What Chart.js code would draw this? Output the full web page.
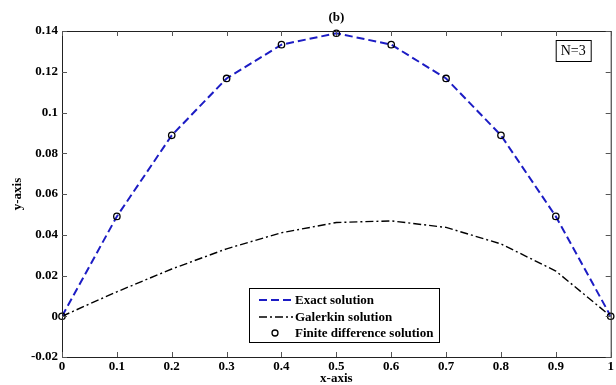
<!DOCTYPE html>
<html lang="en">
<head>
    <meta charset="UTF-8">
    <title>N=3 solutions</title>
    <script src="https://cdn.jsdelivr.net/npm/chart.js"></script>
    <style>
        html, body {
            margin: 0;
            padding: 0;
            background-color: #ffffff;
        }
        #chart {
            display: block;
        }
    </style>
</head>
<body>

<canvas id="chart" width="616" height="385"></canvas>

<script>
    // values
    const xValues = [0, 0.1, 0.2, 0.3, 0.4, 0.5, 0.6, 0.7, 0.8, 0.9, 1];
    const exactValues = [0, 0.0490, 0.0888, 0.1167, 0.1333, 0.1389, 0.1333, 0.1167, 0.0888, 0.0490, 0];
    const galerkinValues = [0, 0.0120, 0.0232, 0.0331, 0.0410, 0.0460, 0.0468, 0.0436, 0.0355, 0.0222, 0];
    const finiteDiffValues = [0, 0.0490, 0.0888, 0.1167, 0.1333, 0.1389, 0.1333, 0.1167, 0.0888, 0.0490, 0];
    const xTicks = [0, 0.1, 0.2, 0.3, 0.4, 0.5, 0.6, 0.7, 0.8, 0.9, 1];
    const yTicks = [-0.02, 0, 0.02, 0.04, 0.06, 0.08, 0.1, 0.12, 0.14];

    const seriesNames = ['Exact solution', 'Galerkin solution', 'Finite difference solution'];
    const plotTitle = '(b)';
    const boxNote = 'N=3';

    const serif = '"Liberation Serif", "DejaVu Serif", serif';
    const blue = '#1c1cc4';

    const toPoints = ys => xValues.map((x, i) => ({ x: x, y: ys[i] }));
    const fmt = v => String(Number(v.toFixed(2)));

    // frame, inward ticks, title, note box and legend
    const decorPlugin = {
        id: 'decor',
        afterDraw(chart) {
            const ctx = chart.ctx;
            const a = chart.chartArea;
            const xs = chart.scales.x;
            const ys = chart.scales.y;
            ctx.save();

            ctx.strokeStyle = '#222';
            ctx.lineWidth = 1;
            ctx.strokeRect(a.left + 0.5, a.top + 0.5, a.right - a.left, a.bottom - a.top);

            ctx.strokeStyle = '#555';
            ctx.beginPath();
            xTicks.forEach(t => {
                const px = Math.round(xs.getPixelForValue(t)) + 0.5;
                ctx.moveTo(px, a.bottom); ctx.lineTo(px, a.bottom - 5);
                ctx.moveTo(px, a.top); ctx.lineTo(px, a.top + 5);
            });
            yTicks.forEach(t => {
                const py = Math.round(ys.getPixelForValue(t)) + 0.5;
                ctx.moveTo(a.left, py); ctx.lineTo(a.left + 5, py);
                ctx.moveTo(a.right, py); ctx.lineTo(a.right - 5, py);
            });
            ctx.stroke();

            // title
            ctx.fillStyle = '#000';
            ctx.font = 'bold 13px ' + serif;
            ctx.textAlign = 'center';
            ctx.textBaseline = 'middle';
            ctx.fillText(plotTitle, (a.left + a.right) / 2, 18);

            // N=3 box
            ctx.font = '14px ' + serif;
            ctx.fillStyle = '#fff';
            ctx.fillRect(a.right - 55, a.top + 9, 35, 21);
            ctx.strokeStyle = '#000';
            ctx.strokeRect(a.right - 55 + 0.5, a.top + 9.5, 35, 21);
            ctx.fillStyle = '#000';
            ctx.fillText(boxNote, a.right - 37.5, a.top + 20.5);

            // legend
            const lx = 249, ly = 288, lw = 190, lh = 54;
            ctx.fillStyle = '#fff';
            ctx.fillRect(lx, ly, lw, lh);
            ctx.strokeStyle = '#000';
            ctx.lineWidth = 1;
            ctx.strokeRect(lx + 0.5, ly + 0.5, lw, lh);
            const rows = [ly + 12, ly + 29, ly + 45];

            ctx.lineWidth = 2;
            ctx.strokeStyle = blue;
            ctx.setLineDash([8, 4]);
            ctx.beginPath(); ctx.moveTo(lx + 10, rows[0]); ctx.lineTo(lx + 44, rows[0]); ctx.stroke();

            ctx.lineWidth = 1.5;
            ctx.strokeStyle = '#000';
            ctx.setLineDash([8, 3, 2, 3]);
            ctx.beginPath(); ctx.moveTo(lx + 10, rows[1]); ctx.lineTo(lx + 44, rows[1]); ctx.stroke();

            ctx.setLineDash([]);
            ctx.lineWidth = 1.3;
            ctx.beginPath(); ctx.arc(lx + 26, rows[2], 3, 0, Math.PI * 2); ctx.stroke();

            ctx.fillStyle = '#000';
            ctx.font = 'bold 13px ' + serif;
            ctx.textAlign = 'left';
            seriesNames.forEach((name, i) => ctx.fillText(name, lx + 46, rows[i] + 1));

            ctx.restore();
        }
    };

    const tickFont = { family: serif, size: 13, weight: 'bold' };
    const titleFont = { family: serif, size: 13, weight: 'bold', lineHeight: 1 };

    new Chart(document.getElementById('chart').getContext('2d'), {
        type: 'scatter',
        data: {
            datasets: [{
                label: seriesNames[2],
                data: toPoints(finiteDiffValues),
                showLine: false,
                pointStyle: 'circle',
                pointRadius: 3.2,
                pointBorderWidth: 1.3,
                pointBorderColor: '#000',
                pointBackgroundColor: 'rgba(0,0,0,0)',
                clip: false
            }, {
                label: seriesNames[0],
                data: toPoints(exactValues),
                showLine: true,
                borderColor: blue,
                borderWidth: 2,
                borderDash: [8, 4],
                pointRadius: 0,
                tension: 0
            }, {
                label: seriesNames[1],
                data: toPoints(galerkinValues),
                showLine: true,
                borderColor: '#000',
                borderWidth: 1.4,
                borderDash: [8, 3, 2, 3],
                pointRadius: 0,
                tension: 0
            }]
        },
        options: {
            responsive: false,
            animation: false,
            layout: { padding: { top: 31, right: 3, left: 0, bottom: 0 } },
            plugins: {
                legend: { display: false },
                tooltip: { enabled: false }
            },
            scales: {
                x: {
                    type: 'linear',
                    min: 0,
                    max: 1,
                    afterFit: s => { s.height = 28; },
                    afterBuildTicks: s => { s.ticks = xTicks.map(v => ({ value: v })); },
                    grid: { display: false, drawTicks: false },
                    border: { display: false },
                    ticks: { color: '#000', font: tickFont, padding: 2, maxRotation: 0, callback: v => fmt(v) },
                    title: { display: true, text: 'x-axis', color: '#000', font: titleFont, padding: { top: 0, bottom: 0 } }
                },
                y: {
                    min: -0.02,
                    max: 0.14,
                    afterFit: s => { s.width = 62; },
                    afterBuildTicks: s => { s.ticks = yTicks.map(v => ({ value: v })); },
                    grid: { display: false, drawTicks: false },
                    border: { display: false },
                    ticks: { color: '#000', font: tickFont, padding: 4, callback: v => fmt(v) },
                    title: { display: true, text: 'y-axis', color: '#000', font: titleFont, padding: { top: 11, bottom: 0 } }
                }
            }
        },
        plugins: [decorPlugin]
    });
</script>

</body>
</html>
